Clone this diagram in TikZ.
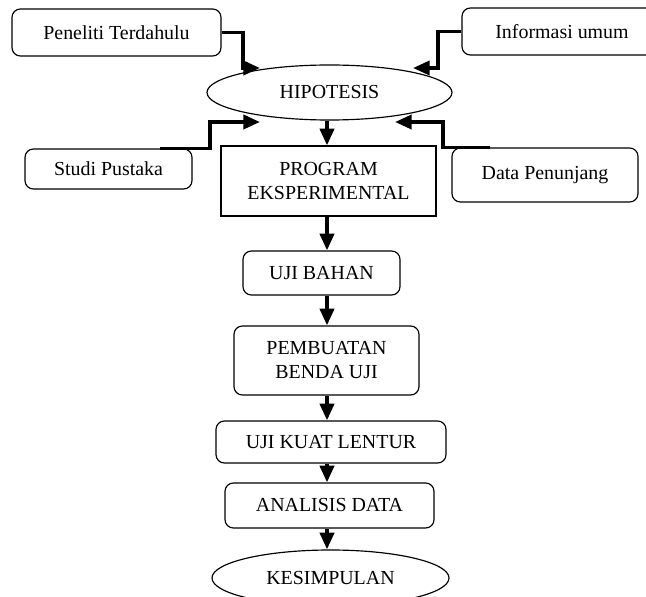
\documentclass[tikz,border=0pt]{standalone}
\usepackage{fontspec}
\setmainfont{Liberation Serif}
\usetikzlibrary{shapes.geometric,arrows.meta}

\tikzset{
  box/.style={draw, line width=1pt, rounded corners=0.25cm, align=center, inner sep=0pt},
  oval/.style={draw, ellipse, line width=1pt, inner sep=0pt},
  link/.style={line width=3.2pt, -{Triangle[length=0.5cm,width=0.42cm]}},
}

\begin{document}
\begin{tikzpicture}[x=0.03cm, y=-0.03cm, font=\fontsize{17}{20.5}\selectfont]
    \useasboundingbox (0,0) rectangle (646,597);
    \clip (0,0) rectangle (646,597);
    % inputs and hypothesis
    \node[box, minimum width=6.27cm, minimum height=1.41cm] (pen) at (116.5,32.5) {Peneliti Terdahulu};
    \node[box, minimum width=6.0cm, minimum height=1.41cm] (info) at (562,31.5) {Informasi umum};
    \node[oval, minimum width=7.35cm, minimum height=1.65cm] (hip) at (329.5,92.5) {HIPOTESIS};
    \node[box, minimum width=5.01cm, minimum height=1.2cm] (studi) at (108.5,169) {Studi Pustaka};
    \node[box, minimum width=5.58cm, minimum height=1.62cm] (data) at (545,175) {Data Penunjang};
    \node[draw, line width=1pt, align=center, minimum width=6.45cm, minimum height=2.1cm] (prog) at (328.5,181) {PROGRAM\\EKSPERIMENTAL};
    % main flow
    \node[box, minimum width=4.71cm, minimum height=1.32cm] (uji) at (321.5,273) {UJI BAHAN};
    \node[box, minimum width=5.55cm, minimum height=2.07cm] (pemb) at (326.5,360.5) {PEMBUATAN\\BENDA UJI};
    \node[box, minimum width=6.9cm, minimum height=1.26cm] (ujik) at (331,442) {UJI KUAT LENTUR};
    \node[box, minimum width=6.27cm, minimum height=1.35cm] (ana) at (329.5,505.5) {ANALISIS DATA};
    \node[oval, minimum width=7.11cm, minimum height=1.68cm] (kes) at (330.5,578) {KESIMPULAN};

    % bends and arrow ends of the side inputs
    \coordinate (penbend) at (243,68);
    \coordinate (penin) at (260,68);
    \coordinate (infobend) at (438,68);
    \coordinate (infoin) at (413,68);
    \coordinate (studibend) at (210,122);
    \coordinate (studiin) at (260,122);
    \coordinate (databend) at (443,122);
    \coordinate (datain) at (395,122);
    \coordinate (spine) at (327,0);

    \draw[link] (pen.east) -| (penbend) -- (penin);
    \draw[link] (info.west) -| (infobend) -- (infoin);
    \draw[link] ([xshift=1.55cm]studi.north) -| (studibend) -- (studiin);
    \draw[link] ([xshift=-1.65cm]data.north) -| (databend) -- (datain);

    \draw[link] (hip.south -| spine) -- (prog.north -| spine);
    \draw[link] (prog.south -| spine) -- (uji.north -| spine);
    \draw[link] (uji.south -| spine) -- (pemb.north -| spine);
    \draw[link] (pemb.south -| spine) -- (ujik.north -| spine);
    \draw[link] (ujik.south -| spine) -- (ana.north -| spine);
    \draw[link] (ana.south -| spine) -- (kes.north -| spine);
\end{tikzpicture}
\end{document}
